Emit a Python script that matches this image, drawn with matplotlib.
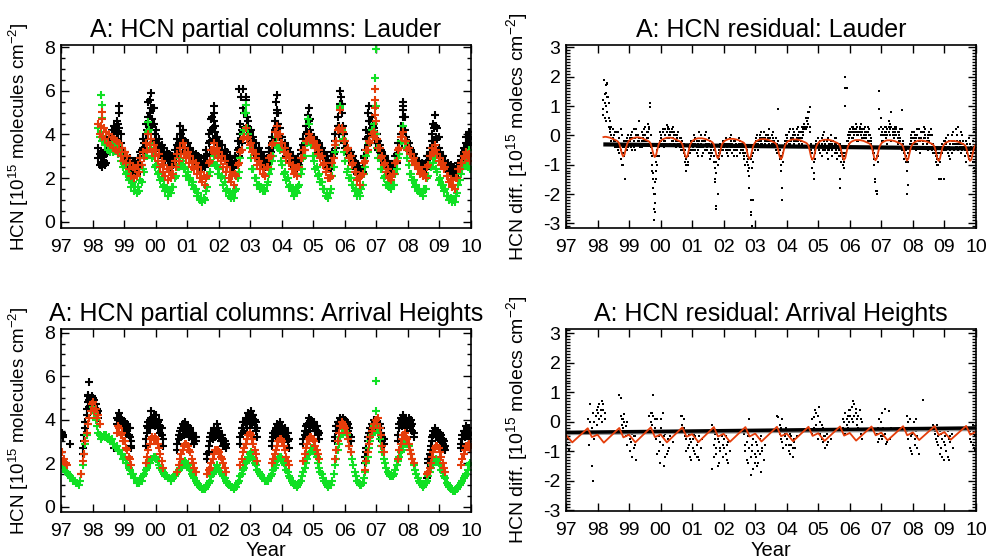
import numpy as np
import matplotlib.pyplot as plt
from matplotlib.ticker import MultipleLocator

plt.rcParams['font.family'] = ['Liberation Sans', 'DejaVu Sans']
plt.rcParams['mathtext.default'] = 'regular'
plt.rcParams['axes.unicode_minus'] = False

_ = None  # no measurement in this half-month slot

# each data row holds one year, split into 24 half-month slots
slot = (np.arange(24) + 0.5) / 24

# ---------------- Lauder partial columns ----------------
lau_years = [1998, 1999, 2000, 2001, 2002, 2003, 2004, 2005, 2006, 2007, 2008, 2009]

lau_black = [
    [_, _, _, _, 3.4, 2.6, 3.2, 2.5, 3.0, 3.3, 2.7, _, 3.9, 3.4, 4.2, 3.6, 4.4, 3.7, 4.6, 3.8, 5.3, 4.0, 3.4, 3.0],
    [3.2, 2.6, 3.0, 2.4, 2.9, 2.2, 2.8, 2.3, 2.7, 2.2, 2.9, 2.4, 3.2, 2.6, 3.8, 3.0, 4.5, 3.8, 5.5, 4.4, 5.9, 4.7, 5.2, 4.0],
    [4.2, 3.4, 3.8, 3.1, 3.5, 2.9, 3.4, 2.8, 3.2, 2.6, 3.1, 2.5, 3.0, 2.6, 3.3, 2.8, 3.8, 3.2, 4.4, 3.6, 4.2, 3.4, 3.7, 3.1],
    [3.6, 3.0, 3.4, 2.8, 3.2, 2.7, 3.1, 2.6, 3.0, 2.5, 2.9, 2.4, 2.8, 2.5, 3.3, 2.8, 4.0, 3.3, 4.7, 3.8, 5.3, 4.1, 3.9, 3.3],
    [3.7, 3.1, 3.5, 2.9, 3.3, 2.8, 3.2, 2.7, 3.0, 2.5, 2.8, 2.3, 3.0, 2.6, 3.7, 3.0, 4.5, 3.6, 6.1, 4.2, 5.7, 4.4, 4.6, 3.8],
    [4.2, 3.5, 3.9, 3.2, 3.6, 3.0, 3.4, 2.9, 3.2, 2.7, 3.0, 2.5, 2.9, 2.6, 3.4, 3.0, 3.9, 3.4, 4.6, 3.8, 5.8, 4.5, 4.3, 3.6],
    [3.9, 3.3, 3.6, 3.0, 3.4, 2.8, 3.2, 2.7, 3.0, 2.5, 2.8, 2.4, 2.9, 2.6, 3.3, 2.9, 3.8, 3.3, 4.4, 3.7, 5.2, 4.2, 4.0, 3.5],
    [3.9, 3.4, 3.7, 3.2, 3.6, 3.0, 3.4, 2.9, 3.2, 2.7, 3.0, 2.5, 2.7, 2.4, 3.2, 2.9, 4.0, 3.4, 4.8, 4.0, 6.0, 5.0, 4.4, 3.6],
    [3.7, 3.1, 3.4, 2.9, 3.2, 2.7, 3.0, 2.5, 2.7, 2.2, 2.5, 2.1, 2.4, 2.3, 3.0, 2.8, 4.2, 3.5, 5.3, 4.1, 4.8, 3.9, 4.3, 3.6],
    [4.0, 3.3, 3.5, 3.0, 3.2, 2.7, 3.0, 2.5, 2.8, 2.3, 2.6, 2.2, 2.5, 2.3, 3.0, 2.7, 3.6, 3.1, 4.4, 3.6, 5.5, 4.2, 3.9, 3.4],
    [3.6, 3.1, 3.3, 2.9, 3.1, 2.7, 2.9, 2.5, 2.8, 2.4, 2.7, 2.3, 2.6, 2.4, 3.0, 2.7, 3.4, 3.0, 4.0, 3.4, 4.9, 3.9, 4.3, 3.4],
    [3.2, 2.8, 3.0, 2.6, 2.8, 2.4, 2.7, 2.3, 2.6, 2.2, 2.5, 2.1, 2.4, 2.2, 2.7, 2.4, 3.0, 2.7, 3.4, 3.0, 3.9, 3.3, 4.1, 3.5],
]
lau_black2 = [
    [_, _, _, _, 2.9, 3.1, 2.7, 3.0, 2.8, 2.6, 3.1, _, 3.6, 3.9, 3.8, 4.0, 3.9, 4.2, 4.1, 4.5, 4.3, 3.6, 3.2, 3.2],
    [2.9, 3.0, 2.7, 2.8, 2.6, 2.5, 2.5, 2.6, 2.4, 2.5, 2.6, 2.7, 2.9, 3.3, 3.4, 3.6, 4.0, 4.2, 4.8, 5.0, 5.2, 4.4, 4.5, 3.7],
    [3.8, 3.6, 3.5, 3.4, 3.2, 3.2, 3.1, 3.0, 2.9, 2.9, 2.8, 2.8, 2.8, 2.9, 3.0, 3.1, 3.5, 3.6, 4.0, 4.0, 3.8, 3.7, 3.4, 3.3],
    [3.3, 3.2, 3.1, 3.0, 2.9, 2.9, 2.8, 2.8, 2.7, 2.7, 2.6, 2.6, 2.6, 2.7, 3.0, 3.1, 3.6, 3.7, 4.2, 4.3, 4.6, 4.4, 3.6, 3.5],
    [3.4, 3.3, 3.2, 3.1, 3.0, 3.0, 2.9, 2.9, 2.7, 2.7, 2.5, 2.6, 2.8, 2.9, 3.3, 3.4, 4.0, 4.2, 5.2, 5.0, 5.0, 4.8, 4.2, 4.1],
    [3.8, 3.7, 3.5, 3.4, 3.3, 3.2, 3.1, 3.1, 2.9, 2.9, 2.7, 2.8, 2.7, 2.8, 3.2, 3.2, 3.6, 3.7, 4.2, 4.3, 5.0, 5.0, 3.9, 3.9],
    [3.6, 3.5, 3.3, 3.3, 3.1, 3.1, 2.9, 3.0, 2.7, 2.8, 2.6, 2.6, 2.7, 2.8, 3.1, 3.1, 3.5, 3.6, 4.0, 4.1, 4.6, 4.7, 3.7, 3.8],
    [3.6, 3.6, 3.4, 3.4, 3.3, 3.3, 3.1, 3.2, 2.9, 3.0, 2.7, 2.8, 2.5, 2.6, 3.0, 3.1, 3.7, 3.7, 4.4, 4.4, 5.4, 5.4, 4.0, 4.0],
    [3.4, 3.4, 3.1, 3.2, 2.9, 3.0, 2.7, 2.8, 2.4, 2.5, 2.3, 2.3, 2.3, 2.5, 2.9, 3.3, 3.8, 3.9, 4.6, 4.6, 4.3, 4.4, 3.9, 4.0],
    [3.6, 3.7, 3.2, 3.3, 2.9, 3.0, 2.7, 2.8, 2.5, 2.6, 2.4, 2.4, 2.4, 2.6, 2.8, 3.1, 3.3, 3.4, 4.0, 4.0, 4.8, 4.8, 3.6, 3.7],
    [3.3, 3.4, 3.1, 3.1, 2.9, 2.9, 2.7, 2.7, 2.6, 2.6, 2.5, 2.5, 2.5, 2.7, 2.8, 3.0, 3.2, 3.2, 3.7, 3.7, 4.4, 4.4, 3.8, 3.9],
    [3.0, 3.0, 2.8, 2.8, 2.6, 2.6, 2.5, 2.5, 2.4, 2.4, 2.3, 2.3, 2.3, 2.5, 2.5, 2.7, 2.8, 3.0, 3.2, 3.3, 3.6, 3.6, 3.8, 3.8],
]
lau_red = [
    [_, _, _, _, 4.5, 4.0, 4.4, 3.9, 4.3, 3.8, 4.1, 3.6, 4.0, 3.5, 3.9, 3.4, 3.8, 3.3, 3.7, 3.2, 3.6, 3.0, 3.4, 2.8],
    [3.2, 2.7, 3.0, 2.4, 2.7, 2.1, 2.5, 2.0, 2.4, 2.1, 2.6, 2.3, 2.9, 2.6, 3.2, 2.9, 3.6, 3.3, 4.0, 3.5, 3.8, 3.2, 3.5, 3.0],
    [3.3, 2.8, 3.1, 2.5, 2.8, 2.3, 2.6, 2.1, 2.4, 1.9, 2.3, 2.0, 2.5, 2.2, 2.8, 2.5, 3.1, 2.8, 3.4, 3.1, 3.6, 3.1, 3.4, 2.9],
    [3.2, 2.7, 3.0, 2.5, 2.8, 2.4, 2.7, 2.2, 2.5, 2.0, 2.3, 1.8, 2.1, 1.7, 2.0, 2.1, 2.7, 2.8, 3.3, 3.3, 3.6, 3.1, 3.4, 2.9],
    [3.2, 2.8, 3.0, 2.5, 2.8, 2.3, 2.5, 2.0, 2.3, 1.8, 2.1, 1.7, 2.2, 2.1, 2.6, 2.7, 3.2, 3.3, 3.8, 3.9, 4.3, 3.8, 3.9, 3.5],
    [3.6, 3.2, 3.3, 2.9, 3.1, 2.6, 2.8, 2.4, 2.6, 2.2, 2.4, 2.1, 2.5, 2.5, 2.9, 3.0, 3.5, 3.6, 4.1, 4.1, 4.4, 3.9, 4.0, 3.6],
    [3.6, 3.2, 3.4, 2.9, 3.1, 2.7, 2.9, 2.4, 2.6, 2.2, 2.4, 2.1, 2.5, 2.5, 2.9, 2.9, 3.3, 3.3, 3.7, 3.7, 4.0, 3.8, 3.9, 3.6],
    [3.7, 3.4, 3.5, 3.1, 3.3, 2.9, 3.0, 2.6, 2.7, 2.3, 2.4, 2.0, 2.0, 2.1, 2.7, 2.9, 3.5, 3.7, 4.2, 4.3, 5.1, 4.3, 4.1, 3.7],
    [3.7, 3.3, 3.4, 2.9, 3.0, 2.6, 2.7, 2.3, 2.3, 1.9, 2.0, 1.7, 2.1, 2.2, 2.7, 2.8, 3.3, 3.3, 3.7, 3.6, 4.0, 3.9, 4.1, 3.8],
    [3.8, 3.4, 3.4, 2.9, 3.0, 2.6, 2.7, 2.3, 2.4, 2.0, 2.1, 1.9, 2.2, 2.2, 2.7, 2.8, 3.3, 3.4, 3.9, 3.9, 4.1, 3.7, 3.7, 3.3],
    [3.4, 3.1, 3.1, 2.8, 2.9, 2.6, 2.7, 2.4, 2.5, 2.2, 2.3, 2.1, 2.2, 2.0, 2.5, 2.6, 3.0, 3.0, 3.4, 3.2, 3.5, 3.3, 3.1, 2.8],
    [2.9, 2.6, 2.7, 2.4, 2.5, 2.1, 2.1, 1.8, 1.9, 1.6, 1.7, 1.5, 2.0, 2.0, 2.4, 2.4, 2.7, 2.7, 3.0, 2.9, 3.2, 3.0, 3.1, 2.8],
]
lau_green = [
    [_, _, _, _, 4.3, 3.9, 4.1, 3.7, 3.8, 3.5, 3.6, 3.3, 3.5, 3.2, 3.5, 3.2, 3.6, 3.3, 3.5, 3.1, 3.3, 2.8, 3.0, 2.5],
    [2.6, 2.2, 2.3, 1.9, 2.0, 1.6, 1.8, 1.4, 1.6, 1.3, 1.6, 1.4, 1.9, 1.8, 2.4, 2.3, 3.0, 3.0, 4.1, 3.4, 3.6, 2.9, 3.0, 2.5],
    [2.6, 2.2, 2.3, 1.9, 2.0, 1.6, 1.7, 1.4, 1.5, 1.2, 1.4, 1.3, 1.6, 1.6, 2.0, 2.1, 2.5, 2.5, 2.9, 2.6, 2.8, 2.4, 2.5, 2.1],
    [2.3, 1.9, 2.0, 1.7, 1.8, 1.5, 1.5, 1.2, 1.3, 1.0, 1.1, 0.9, 1.1, 1.0, 1.4, 1.6, 2.1, 2.3, 2.7, 2.7, 3.0, 2.6, 2.6, 2.2],
    [2.4, 2.0, 2.1, 1.7, 1.8, 1.4, 1.5, 1.2, 1.3, 1.1, 1.2, 1.1, 1.4, 1.5, 2.0, 2.3, 2.9, 3.3, 4.0, 4.2, 5.0, 4.3, 4.0, 3.4],
    [2.9, 2.4, 2.4, 2.0, 2.0, 1.7, 1.7, 1.5, 1.6, 1.4, 1.5, 1.4, 1.7, 1.8, 2.2, 2.4, 2.8, 3.0, 3.5, 3.5, 3.9, 3.4, 3.3, 2.8],
    [2.6, 2.2, 2.3, 1.9, 2.0, 1.6, 1.7, 1.4, 1.5, 1.2, 1.4, 1.3, 1.6, 1.7, 2.2, 2.4, 2.9, 3.0, 3.6, 3.6, 4.5, 3.8, 3.5, 3.0],
    [2.8, 2.4, 2.5, 2.1, 2.2, 1.8, 1.8, 1.5, 1.5, 1.2, 1.3, 1.1, 1.3, 1.5, 2.1, 2.5, 3.2, 3.5, 4.2, 4.3, 5.2, 4.2, 3.8, 3.2],
    [2.8, 2.3, 2.4, 2.0, 2.0, 1.7, 1.7, 1.4, 1.5, 1.2, 1.3, 1.2, 1.5, 1.7, 2.2, 2.5, 3.0, 3.2, 3.6, 3.6, 4.2, 4.0, 4.5, 4.0],
    [3.4, 2.9, 2.9, 2.4, 2.4, 2.0, 2.1, 1.7, 1.8, 1.6, 1.7, 1.5, 1.7, 1.7, 2.2, 2.4, 2.9, 3.1, 3.7, 3.7, 4.4, 3.6, 3.4, 2.9],
    [2.6, 2.2, 2.2, 1.9, 1.9, 1.6, 1.7, 1.4, 1.5, 1.3, 1.3, 1.2, 1.5, 1.5, 2.0, 2.1, 2.6, 2.5, 3.0, 2.7, 2.9, 2.4, 2.3, 1.9],
    [2.0, 1.7, 1.7, 1.4, 1.5, 1.2, 1.2, 1.0, 1.1, 0.9, 1.0, 0.9, 1.2, 1.3, 1.7, 1.9, 2.2, 2.4, 2.6, 2.7, 3.0, 2.5, 3.3, 2.4],
]
# isolated high points in the Lauder columns
lau_black_xt = [1998.85, 1999.83, 1999.88, 2000.78, 2001.80, 2001.84, 2002.63, 2002.70, 2002.86, 2003.82, 2003.86,
                2004.84, 2005.88, 2006.74, 2006.88, 2007.83, 2007.86, 2008.80, 2008.84, 2009.92, 2009.97]
lau_black_xv = [5.0, 5.6, 5.2, 4.4, 4.8, 5.0, 6.1, 5.7, 5.6, 5.5, 5.1,
                4.9, 5.7, 5.0, 4.5, 5.3, 5.1, 4.5, 4.3, 3.9, 4.1]
lau_red_xt = [1998.29, 1998.30, 2006.97, 2006.97, 2006.96, 2006.98, 2006.97]
lau_red_xv = [5.05, 4.7, 6.1, 5.6, 5.2, 4.6, 4.9]
lau_green_xt = [1998.28, 1998.29, 1998.30, 1999.77, 1999.79, 2002.86, 2002.83, 2004.84, 2005.86, 2006.98, 2006.97, 2006.98]
lau_green_xv = [5.8, 5.35, 4.75, 4.55, 4.2, 5.35, 5.0, 4.7, 5.3, 7.9, 6.6, 5.3]

# ---------------- Arrival Heights partial columns ----------------
ah_years = [1997, 1998, 1999, 2000, 2001, 2002, 2003, 2004, 2005, 2006, 2007, 2008, 2009]

ah_black = [
    [3.4, 3.2, _, _, _, _, 2.9, _, _, _, _, _, _, _, _, _, 2.4, 3.0, 3.6, 4.2, 5.1, 4.6, 5.0, 4.8],
    [5.0, 4.6, 4.7, 4.3, 4.4, _, _, _, _, _, _, _, _, _, _, _, _, _, 4.1, 3.7, 4.3, 3.8, 4.0, 3.6],
    [3.9, 3.4, 3.8, 3.3, 3.6, 2.8, _, _, _, _, _, _, _, _, _, _, 2.8, 3.4, 3.9, 3.6, 4.4, 3.8, 4.2, 3.7],
    [4.2, 3.6, 4.0, 3.4, 3.6, 2.8, _, _, _, _, _, _, _, _, _, _, 2.6, 3.1, 3.5, 3.2, 3.8, 3.3, 3.9, 3.4],
    [3.7, 3.2, 3.6, 3.1, 3.4, 2.9, 3.2, _, _, _, _, _, _, _, _, 2.2, 2.5, 3.0, 3.4, 3.1, 3.6, 3.2, 3.8, 3.3],
    [3.5, 3.0, 3.3, 2.8, 3.0, 2.7, _, _, _, _, _, _, _, _, _, _, 2.9, 3.4, 3.9, 3.5, 4.1, 3.6, 4.3, 3.8],
    [4.4, 3.8, 4.2, 3.6, 3.9, 3.2, _, _, _, _, _, _, _, _, _, _, 2.8, 3.2, 3.5, 3.2, 3.8, 3.3, 3.9, 3.4],
    [3.7, 3.2, 3.6, 3.1, 3.4, 2.7, _, _, _, _, _, _, _, _, _, _, 2.9, 3.3, 3.7, 3.4, 4.1, 3.5, 4.0, 3.6],
    [3.9, 3.5, 3.7, 3.3, 3.4, _, _, _, _, _, _, _, _, _, _, _, 3.0, 3.5, 3.9, 3.6, 4.1, 3.8, 4.1, 3.8],
    [4.0, 3.7, 3.8, 3.3, 3.0, _, _, _, _, _, _, _, _, _, _, 2.0, 2.5, 3.0, 3.4, 3.2, 3.8, 3.5, 4.0, 3.7],
    [3.9, 3.6, 3.8, 3.4, 3.2, 2.9, _, _, _, _, _, _, _, _, _, _, 3.0, 3.6, 4.1, 3.7, 4.2, 3.8, 4.0, 3.6],
    [4.1, 3.6, 4.0, 3.5, 3.2, _, _, _, _, _, _, _, _, _, 1.3, 2.0, 2.2, 2.6, 3.0, 3.3, 3.6, 3.2, 3.5, 3.1],
    [3.4, 3.0, 3.1, 2.7, 2.6, _, _, _, _, _, _, _, _, _, _, _, 2.7, 3.1, 3.5, 3.2, 3.7, 3.3, 3.6, 3.1],
]
ah_black2 = [
    [3.3, 3.3, _, _, _, _, _, _, _, _, _, _, _, _, _, _, 2.7, 3.3, 3.9, 4.5, 4.8, 4.9, 4.7, 5.1],
    [4.7, 4.9, 4.4, 4.5, 4.1, _, _, _, _, _, _, _, _, _, _, _, _, _, 3.8, 4.0, 4.0, 4.1, 3.7, 3.9],
    [3.6, 3.7, 3.5, 3.6, 3.2, 3.0, _, _, _, _, _, _, _, _, _, _, 3.1, 3.7, 3.6, 4.0, 4.1, 4.1, 3.9, 4.0],
    [3.9, 3.9, 3.7, 3.7, 3.3, 3.1, _, _, _, _, _, _, _, _, _, _, 2.9, 3.3, 3.3, 3.6, 3.5, 3.6, 3.6, 3.7],
    [3.4, 3.5, 3.3, 3.4, 3.1, 3.2, 3.0, _, _, _, _, _, _, _, _, 2.4, 2.8, 3.2, 3.2, 3.4, 3.4, 3.5, 3.5, 3.6],
    [3.2, 3.3, 3.0, 3.1, 2.8, 2.9, _, _, _, _, _, _, _, _, _, _, 3.2, 3.6, 3.6, 3.9, 3.8, 4.0, 4.0, 4.1],
    [4.1, 4.2, 3.9, 4.0, 3.5, 3.6, _, _, _, _, _, _, _, _, _, _, 3.0, 3.4, 3.3, 3.6, 3.5, 3.7, 3.6, 3.7],
    [3.4, 3.5, 3.3, 3.4, 3.0, 3.1, _, _, _, _, _, _, _, _, _, _, 3.1, 3.5, 3.5, 3.8, 3.7, 3.9, 3.8, 3.9],
    [3.7, 3.7, 3.5, 3.5, 3.1, _, _, _, _, _, _, _, _, _, _, _, 3.2, 3.7, 3.7, 3.9, 3.9, 4.0, 3.9, 4.0],
    [3.8, 3.9, 3.5, 3.6, 3.2, _, _, _, _, _, _, _, _, _, _, 2.3, 2.7, 3.2, 3.2, 3.6, 3.5, 3.7, 3.8, 3.9],
    [3.7, 3.8, 3.6, 3.6, 3.0, 3.1, _, _, _, _, _, _, _, _, _, _, 3.3, 3.8, 3.9, 4.0, 4.0, 4.1, 3.8, 3.9],
    [3.8, 3.9, 3.7, 3.8, 3.4, _, _, _, _, _, _, _, _, _, _, 2.2, 2.4, 2.8, 3.2, 3.5, 3.4, 3.5, 3.3, 3.4],
    [3.2, 3.3, 2.9, 3.0, 2.8, _, _, _, _, _, _, _, _, _, _, _, 2.9, 3.3, 3.3, 3.5, 3.5, 3.6, 3.3, 3.4],
]
ah_red = [
    [2.5, 2.1, 2.2, 2.0, 1.9, _, _, _, _, _, _, _, _, _, _, 1.5, 2.1, 2.4, 3.0, 3.4, 3.8, 4.1, 4.4, 4.7],
    [4.8, 4.4, 4.5, 4.1, 4.2, 3.8, _, _, _, _, _, _, _, _, _, _, _, _, 3.4, 3.7, 3.6, 3.3, 3.4, 3.0],
    [3.0, 2.7, 2.6, 2.3, 2.2, 1.9, _, _, _, _, _, _, _, _, _, _, 2.0, 2.3, 2.6, 2.9, 3.1, 3.2, 3.1, 3.2],
    [3.1, 2.9, 2.7, 2.4, 2.1, 1.8, _, _, _, _, _, _, _, _, _, _, 1.6, 1.9, 2.2, 2.4, 2.6, 2.8, 2.9, 2.9],
    [2.8, 2.6, 2.5, 2.2, 2.0, 1.8, 1.6, _, _, _, _, _, _, _, _, 1.5, 1.7, 1.8, 2.0, 2.2, 2.4, 2.6, 2.6, 2.6],
    [2.5, 2.3, 2.2, 2.0, 1.8, 1.6, _, _, _, _, _, _, _, _, _, _, 1.9, 2.2, 2.5, 2.7, 2.9, 3.1, 3.3, 3.4],
    [3.3, 3.1, 2.9, 2.6, 2.4, 2.1, _, _, _, _, _, _, _, _, _, _, 2.0, 2.2, 2.4, 2.6, 2.8, 3.0, 3.1, 3.1],
    [3.0, 2.8, 2.6, 2.3, 2.1, 1.9, _, _, _, _, _, _, _, _, _, _, 2.1, 2.4, 2.7, 2.9, 3.1, 3.2, 3.2, 3.1],
    [3.0, 2.8, 2.6, 2.4, 2.2, _, _, _, _, _, _, _, _, _, _, _, 2.2, 2.6, 3.0, 3.4, 3.7, 3.9, 3.8, 3.7],
    [3.6, 3.4, 3.1, 2.8, 2.5, _, _, _, _, _, _, _, _, _, _, 1.7, 2.1, 2.5, 2.9, 3.2, 3.5, 3.6, 3.8, 4.0],
    [3.8, 4.1, 3.6, 3.3, 2.8, 2.5, _, _, _, _, _, _, _, _, _, _, 2.2, 2.6, 2.9, 3.1, 3.3, 3.4, 3.2, 3.1],
    [2.9, 2.6, 2.4, 2.2, 2.0, _, _, _, _, _, _, _, _, _, 1.5, 1.6, 1.8, 2.0, 2.3, 2.5, 2.7, 2.8, 2.8, 2.7],
    [2.5, 2.3, 2.0, 1.8, 1.6, _, _, _, _, _, _, _, _, _, _, _, 1.9, 2.2, 2.4, 2.6, 2.8, 2.8, 2.9, 2.7],
]
ah_green = [
    [1.9, 1.8, 1.8, 1.6, 1.6, 1.5, 1.4, 1.3, 1.3, 1.2, 1.2, 1.1, 1.1, 1.0, 1.2, 1.5, 1.9, 2.4, 2.9, 3.3, 3.8, 4.1, 4.4, 4.7],
    [4.6, 4.3, 4.0, 3.7, 3.4, 3.3, 3.1, 3.2, 3.3, 3.2, 3.3, 3.1, 3.2, 3.0, 3.1, 2.9, 2.9, 2.7, 2.8, 2.6, 2.6, 2.4, 2.4, 2.2],
    [2.3, 2.0, 2.0, 1.8, 1.7, 1.5, 1.5, 1.3, 1.3, 1.1, 1.2, 1.1, 1.2, 1.2, 1.4, 1.5, 1.7, 1.8, 2.0, 2.0, 2.2, 2.2, 2.3, 2.3],
    [2.2, 2.1, 1.9, 1.8, 1.7, 1.6, 1.5, 1.4, 1.4, 1.3, 1.3, 1.2, 1.3, 1.3, 1.4, 1.5, 1.6, 1.7, 1.8, 1.8, 2.0, 2.0, 2.1, 2.0],
    [1.9, 1.8, 1.7, 1.5, 1.4, 1.3, 1.2, 1.1, 1.0, 0.9, 0.9, 0.8, 0.8, 0.8, 0.9, 1.0, 1.1, 1.2, 1.4, 1.5, 1.6, 1.7, 1.9, 1.8],
    [1.8, 1.6, 1.5, 1.4, 1.3, 1.2, 1.1, 1.0, 1.0, 0.9, 0.9, 0.8, 0.9, 0.9, 1.1, 1.2, 1.4, 1.5, 1.7, 1.8, 2.0, 2.1, 2.3, 2.4],
    [2.5, 2.3, 2.2, 2.0, 1.9, 1.7, 1.6, 1.5, 1.4, 1.3, 1.3, 1.2, 1.2, 1.2, 1.3, 1.4, 1.5, 1.7, 1.8, 1.9, 2.1, 2.2, 2.3, 2.3],
    [2.2, 2.0, 1.9, 1.7, 1.6, 1.4, 1.3, 1.2, 1.1, 1.0, 1.0, 0.9, 1.0, 1.1, 1.2, 1.4, 1.6, 1.8, 2.0, 2.2, 2.4, 2.5, 2.7, 2.7],
    [2.6, 2.4, 2.3, 2.0, 1.8, 1.6, 1.5, 1.3, 1.2, 1.1, 1.0, 0.9, 1.0, 1.0, 1.2, 1.5, 1.9, 2.2, 2.6, 2.9, 3.2, 3.4, 3.6, 3.6],
    [3.5, 3.3, 3.1, 2.8, 2.5, 2.2, 1.9, 1.6, 1.4, 1.2, 1.1, 1.0, 1.0, 1.1, 1.3, 1.6, 2.0, 2.3, 2.7, 3.0, 3.3, 3.5, 3.7, 3.8],
    [3.7, 3.4, 3.1, 2.8, 2.5, 2.2, 2.0, 1.8, 1.6, 1.5, 1.4, 1.4, 1.4, 1.5, 1.7, 1.9, 2.1, 2.3, 2.5, 2.6, 2.8, 2.9, 3.0, 2.9],
    [2.8, 2.6, 2.4, 2.2, 1.9, 1.7, 1.5, 1.3, 1.2, 1.1, 1.0, 0.9, 1.0, 1.1, 1.2, 1.4, 1.6, 1.8, 1.9, 2.0, 2.1, 2.2, 2.1, 2.0],
    [1.9, 1.7, 1.6, 1.4, 1.3, 1.1, 1.0, 0.9, 0.8, 0.8, 0.7, 0.7, 0.8, 0.8, 0.9, 1.0, 1.1, 1.2, 1.3, 1.4, 1.5, 1.7, 1.9, 2.0],
]
ah_black_xt = [1997.88, 1997.86, 1997.92, 1998.68, 1999.22]
ah_black_xv = [5.75, 5.15, 5.0, 2.7, 2.7]
ah_green_xt = [2006.98, 2006.99]
ah_green_xv = [5.8, 4.4]

# ---------------- Lauder residual ----------------
lau_res_a = [
    [_, _, _, _, 1.2, 0.6, 1.7, 0.8, 0.3, 0.1, -0.2, 0.2, -0.3, -0.4, 0.1, -0.3, -0.1, -0.5, 0.0, -0.6, -0.4, -0.2, -0.1, 0.0],
    [-0.1, -0.4, 0.1, -0.2, -0.5, 0.2, -0.3, 0.5, -0.1, -0.4, 0.0, -0.2, 0.3, -0.1, 0.4, -0.3, -0.6, -1.2, -1.8, -2.3, -0.9, -0.5, -0.3, 0.1],
    [-0.2, 0.1, -0.4, 0.2, -0.1, 0.3, 0.0, -0.3, 0.2, -0.2, 0.1, -0.4, 0.0, -0.3, -0.1, -0.5, -0.2, -0.6, -0.9, -1.2, -0.7, -0.4, -0.6, -0.2],
    [-0.3, 0.0, -0.5, -0.2, -0.7, 0.1, -0.4, -0.2, -0.6, 0.0, -0.3, -0.5, -0.1, -0.8, -0.4, -0.6, -0.9, -1.5, -2.4, -1.0, -0.5, -0.3, -0.7, -0.2],
    [-0.4, -0.1, -0.6, -0.3, -0.5, 0.0, -0.3, -0.7, -0.2, -0.5, -0.4, -0.1, -0.6, -0.3, -0.5, -0.8, -0.4, -0.9, -1.2, -1.8, -2.7, -1.1, -0.6, -0.3],
    [-0.1, -0.4, -0.2, 0.0, -0.3, -0.1, 0.1, -0.2, -0.4, 0.0, -0.2, -0.1, -0.3, 0.1, -0.2, -0.5, -0.3, 0.9, -0.7, -1.0, -1.8, -0.6, -0.4, -0.2],
    [-0.2, 0.1, -0.4, -0.1, 0.2, -0.3, 0.0, -0.2, 0.3, -0.1, 0.1, -0.3, 0.2, 0.4, 0.6, 0.3, 0.8, 0.1, -0.3, -0.8, -1.3, -0.5, -0.2, -0.4],
    [-0.3, -0.6, -0.1, -0.4, 0.1, -0.5, -0.2, -0.8, -0.3, 0.0, -0.5, -0.2, -0.6, -0.1, -0.4, -0.7, -0.3, -0.9, -0.6, -1.1, 1.0, 1.6, -0.4, 0.1],
    [0.0, 0.3, -0.1, 0.2, 0.4, -0.2, 0.1, 0.3, 0.0, 0.2, -0.1, 0.3, 0.1, -0.2, 0.2, 0.0, -0.3, -0.5, -0.8, -1.5, -1.9, -0.7, 1.5, 0.6],
    [0.1, -0.2, 0.3, -0.1, 0.2, 0.5, 0.0, 0.8, 0.2, -0.1, 0.3, 0.0, -0.3, 0.1, -0.2, 0.85, -0.4, -0.6, -0.9, -2.0, -1.7, -0.5, -0.2, 0.1],
    [-0.3, 0.0, -0.5, 0.2, -0.2, -0.6, 0.1, -0.3, 0.3, -0.1, -0.4, 0.0, -0.2, 0.2, -0.5, -0.3, -0.6, -0.9, -0.7, -1.0, -1.5, -0.4, -0.6, -0.2],
    [-0.4, -0.1, -0.6, -0.2, -0.8, 0.0, -0.3, -0.5, 0.2, -0.4, 0.3, -0.2, -0.6, 0.0, -0.4, -0.7, -0.2, -0.5, -0.8, -0.3, -0.6, -0.9, 0.1, -1.2],
]
lau_res_b = [
    [_, _, _, _, 0.7, 1.4, 1.0, 1.8, 1.1, 0.5, 0.3, -0.1, 0.0, -0.2, -0.4, 0.1, -0.6, 0.2, -0.3, -1.0, -0.2, -0.5, -0.3, -0.4],
    [-0.3, 0.0, -0.5, 0.2, -0.1, -0.3, 0.0, -0.2, -0.4, 0.1, -0.3, 0.2, -0.2, 0.1, -0.1, 0.3, 0.0, -0.7, -1.3, -2.6, -1.5, -1.0, -0.7, -0.2],
    [0.0, -0.3, 0.2, -0.2, 0.35, -0.1, 0.2, 0.1, -0.2, 0.3, -0.3, 0.0, -0.2, 0.1, -0.4, -0.1, -0.5, -0.3, -0.5, -0.8, -1.0, -0.6, -0.3, -0.5],
    [-0.5, -0.2, -0.1, -0.6, -0.3, -0.4, 0.0, -0.7, -0.2, -0.5, 0.1, -0.3, -0.6, -0.2, -0.7, -0.3, -0.5, -0.9, -1.3, -2.0, -0.8, -0.6, -0.4, -0.5],
    [-0.2, -0.5, -0.3, -0.7, -0.1, -0.4, -0.6, -0.2, -0.5, -0.3, -0.7, -0.4, -0.2, -0.5, -0.3, -0.6, -1.0, -0.5, -0.8, -1.4, -2.2, -3.1, -0.9, -0.5],
    [-0.3, 0.0, -0.5, -0.2, 0.1, -0.4, -0.1, -0.3, 0.0, -0.2, 0.2, -0.4, 0.0, -0.2, -0.4, -0.1, -0.6, -0.4, -0.8, -1.2, -2.2, -0.9, -0.2, 0.0],
    [0.0, -0.3, 0.2, -0.2, -0.1, 0.1, -0.4, 0.2, -0.2, 0.1, -0.1, 0.3, 0.0, 0.2, 0.3, 0.5, 0.4, 0.95, -0.5, -1.1, -1.5, -0.8, -0.4, -0.1],
    [-0.5, -0.2, -0.7, 0.0, -0.4, -0.3, -0.6, -0.1, -0.5, -0.2, -0.7, -0.4, -0.1, -0.5, -0.8, -0.3, -1.8, -0.5, -1.0, -0.7, 2.0, -0.2, 0.0, -0.3],
    [0.2, -0.1, 0.3, 0.0, 0.1, 0.3, -0.2, 0.1, 0.4, -0.1, 0.2, 0.0, -0.1, 0.3, -0.2, -0.4, -0.1, -0.6, -1.0, -1.6, -2.0, -0.9, 0.9, 0.3],
    [-0.2, 0.2, 0.0, 0.3, -0.3, 0.1, 0.4, -0.2, 0.0, 0.2, -0.4, 0.3, 0.1, -0.2, 0.2, -0.5, -0.2, -0.8, -0.5, -1.2, -0.9, -0.3, 0.0, -0.3],
    [0.1, -0.4, -0.1, -0.3, 0.2, -0.2, -0.4, 0.1, -0.1, 0.2, -0.3, -0.5, 0.1, -0.4, 0.0, -0.6, -0.4, -0.5, -1.0, -0.8, -0.6, -1.5, -0.3, -0.5],
    [-0.2, -0.5, 0.0, -0.7, -0.3, -0.6, 0.1, -0.2, -0.4, 0.0, -0.5, -0.3, 0.1, -0.5, -0.2, -0.4, -0.9, -0.3, -0.1, -0.7, -0.4, -0.2, -0.6, -0.9],
]
lau_res_c = [
    [_, _, _, _, 0.9, 1.1, 0.5, 1.3, 0.6, 0.2, 0.0, -0.3, -0.2, 0.1, -0.3, -0.5, -0.4, -0.8, -0.6, -0.4, -0.7, -0.3, -0.5, -0.2],
    [-0.2, -0.3, -0.1, -0.4, -0.3, 0.0, -0.2, -0.1, -0.3, -0.2, -0.1, -0.3, 0.0, -0.2, 0.1, 0.2, -0.4, -1.0, -1.5, -2.0, -1.2, -0.7, -0.4, -0.3],
    [-0.1, 0.2, -0.2, 0.0, 0.1, 0.2, -0.1, 0.0, 0.1, -0.1, 0.0, -0.2, -0.1, -0.2, -0.3, -0.3, -0.4, -0.5, -0.7, -1.0, -0.9, -0.5, -0.4, -0.3],
    [-0.4, -0.3, -0.3, -0.4, -0.5, -0.2, -0.3, -0.4, -0.4, -0.2, -0.5, -0.4, -0.3, -0.6, -0.5, -0.4, -0.7, -1.1, -0.9, -0.7, -0.6, -0.4, -0.5, -0.4],
    [-0.3, -0.3, -0.4, -0.5, -0.3, -0.2, -0.4, -0.5, -0.4, -0.4, -0.5, -0.3, -0.4, -0.4, -0.6, -0.7, -0.6, -0.7, -1.0, -1.1, -0.8, -0.7, -0.4, -0.4],
    [-0.2, -0.2, -0.3, -0.1, -0.2, -0.3, -0.1, -0.1, -0.2, -0.1, -0.3, -0.2, -0.2, -0.1, -0.3, -0.3, -0.4, -0.2, -0.5, -0.8, -0.7, -0.4, -0.3, -0.3],
    [-0.1, -0.2, -0.3, -0.2, 0.0, -0.2, -0.2, -0.1, 0.0, -0.3, -0.2, -0.1, 0.1, 0.3, 0.2, 0.5, 0.6, 0.3, -0.4, -0.6, -0.9, -0.6, -0.3, -0.3],
    [-0.4, -0.4, -0.3, -0.5, -0.2, -0.4, -0.4, -0.5, -0.4, -0.3, -0.3, -0.4, -0.3, -0.3, -0.6, -0.5, -0.7, -0.6, -0.8, -0.9, -0.6, -0.4, -0.2, -0.1],
    [0.1, 0.1, 0.2, 0.1, 0.2, 0.0, 0.0, 0.2, 0.2, 0.1, 0.0, 0.1, 0.0, 0.1, 0.0, -0.2, -0.2, -0.4, -0.6, -0.8, -0.7, -0.4, 0.2, 0.0],
    [0.0, 0.0, 0.1, 0.1, 0.0, 0.3, 0.2, 0.3, 0.1, 0.0, 0.1, 0.2, -0.1, 0.0, -0.1, 0.2, -0.3, -0.5, -0.7, -0.8, -0.6, -0.4, -0.1, -0.1],
    [-0.1, -0.2, -0.3, 0.0, -0.1, -0.4, -0.1, -0.2, 0.1, 0.0, -0.2, -0.1, 0.0, 0.0, -0.3, -0.4, -0.5, -0.7, -0.8, -0.6, -0.9, -0.6, -0.4, -0.4],
    [-0.3, -0.3, -0.4, -0.4, -0.5, -0.2, -0.2, -0.3, -0.3, -0.2, -0.3, -0.4, -0.4, -0.3, -0.3, -0.5, -0.5, -0.6, -0.5, -0.5, -0.4, -0.5, -0.4, -0.6],
]
lau_res_xt = [1998.22, 1998.30, 1998.27, 1998.33, 1998.77, 1998.87, 1999.66, 1999.67, 1999.78, 1999.80, 1999.79,
              1999.82, 2001.75, 2001.73, 2002.88, 2002.92, 2002.90, 2003.85, 2003.86, 2004.72, 2005.70, 2005.84,
              2006.80, 2006.83, 2007.82, 2007.84, 2008.82, 2009.00, 2009.95]
lau_res_xv = [1.9, 1.75, 1.45, 1.3, -1.0, -1.5, 1.1, 0.95, -2.0, -2.5, -2.9,
              -1.6, -2.5, -1.6, -2.6, -2.2, -3.1, -2.2, -1.8, 0.8, -1.5, 1.6,
              -1.6, -1.9, -2.0, -1.7, -1.5, -1.5, -1.1]
lau_fit = [
    [_, _, _, _, -0.06, -0.05, -0.05, -0.06, -0.07, -0.08, -0.10, -0.12, -0.14, -0.16, -0.18, -0.21, -0.28, -0.43, -0.62, -0.72, -0.66, -0.47, -0.30, -0.21],
    [-0.16, -0.13, -0.11, -0.09, -0.08, -0.07, -0.07, -0.07, -0.08, -0.09, -0.11, -0.13, -0.15, -0.17, -0.19, -0.22, -0.29, -0.45, -0.64, -0.74, -0.68, -0.49, -0.31, -0.22],
    [-0.17, -0.14, -0.12, -0.10, -0.09, -0.08, -0.08, -0.08, -0.09, -0.10, -0.12, -0.14, -0.16, -0.18, -0.20, -0.23, -0.30, -0.46, -0.66, -0.76, -0.70, -0.50, -0.32, -0.23],
    [-0.18, -0.15, -0.13, -0.11, -0.10, -0.10, -0.10, -0.10, -0.11, -0.12, -0.13, -0.15, -0.17, -0.19, -0.21, -0.24, -0.31, -0.47, -0.68, -0.78, -0.72, -0.52, -0.34, -0.25],
    [-0.20, -0.17, -0.15, -0.13, -0.12, -0.12, -0.12, -0.12, -0.13, -0.14, -0.15, -0.17, -0.19, -0.21, -0.23, -0.26, -0.33, -0.49, -0.70, -0.80, -0.74, -0.54, -0.36, -0.27],
    [-0.21, -0.18, -0.16, -0.14, -0.13, -0.13, -0.13, -0.13, -0.14, -0.15, -0.16, -0.18, -0.20, -0.22, -0.24, -0.27, -0.34, -0.50, -0.71, -0.81, -0.75, -0.55, -0.37, -0.28],
    [-0.22, -0.19, -0.17, -0.15, -0.14, -0.14, -0.14, -0.14, -0.15, -0.16, -0.17, -0.19, -0.21, -0.23, -0.25, -0.28, -0.35, -0.52, -0.73, -0.83, -0.77, -0.57, -0.38, -0.29],
    [-0.23, -0.20, -0.18, -0.16, -0.15, -0.15, -0.15, -0.15, -0.16, -0.17, -0.18, -0.20, -0.22, -0.24, -0.26, -0.29, -0.36, -0.53, -0.74, -0.84, -0.78, -0.58, -0.39, -0.30],
    [-0.24, -0.21, -0.19, -0.17, -0.16, -0.16, -0.16, -0.16, -0.17, -0.18, -0.19, -0.21, -0.23, -0.25, -0.27, -0.30, -0.37, -0.54, -0.75, -0.85, -0.79, -0.59, -0.40, -0.31],
    [-0.25, -0.22, -0.20, -0.18, -0.17, -0.17, -0.17, -0.17, -0.18, -0.19, -0.20, -0.22, -0.24, -0.26, -0.28, -0.31, -0.38, -0.55, -0.76, -0.86, -0.80, -0.60, -0.41, -0.32],
    [-0.26, -0.23, -0.21, -0.19, -0.18, -0.18, -0.18, -0.18, -0.19, -0.20, -0.21, -0.23, -0.25, -0.27, -0.29, -0.32, -0.39, -0.56, -0.77, -0.87, -0.81, -0.61, -0.42, -0.33],
    [-0.27, -0.24, -0.22, -0.20, -0.19, -0.19, -0.19, -0.19, -0.20, -0.21, -0.22, -0.24, -0.26, -0.28, -0.30, -0.33, -0.40, -0.57, -0.78, -0.87, -0.82, -0.62, -0.43, -0.34],
]
lau_trend_t = [1998.25, 2010.0]
lau_trend_v = [-0.31, -0.45]

# ---------------- Arrival Heights residual ----------------
ah_res_a = [
    [-0.8, -0.6, -0.95, _, _, _, _, _, _, _, _, _, _, _, _, _, 0.1, -0.3, 0.6, -0.2, 0.3, -0.6, 0.2, -0.1],
    [0.3, 0.6, 0.2, 0.7, 0.4, 0.1, _, _, _, _, _, _, _, _, _, _, 0.9, 0.2, -0.1, 0.1, 0.25, -0.15, 0.0, -0.4],
    [-0.6, -0.3, -1.2, -0.5, -0.8, -1.3, _, _, _, _, _, _, _, _, _, 0.2, 0.3, -0.1, 0.9, 0.1, -0.3, -1.1, -0.5, -1.4],
    [0.1, -0.8, -1.5, -0.4, -1.1, -0.6, -0.9, -0.5, _, -0.7, _, _, _, _, _, 0.2, -0.1, 0.1, -0.3, -0.6, -0.9, -0.4, -1.2, -0.7],
    [-0.6, -1.0, -0.5, -1.2, -0.7, -1.3, -0.9, -0.6, _, _, _, _, _, _, -0.3, -1.6, -0.8, -0.4, -1.1, -0.6, -1.4, -0.9, -0.5, -1.2],
    [-0.9, -0.5, -1.3, -0.7, -1.0, _, _, _, _, _, _, _, _, _, _, -0.4, -1.0, -0.7, -1.4, 0.1, -1.2, -0.8, -1.6, -1.1],
    [-0.7, -1.5, -1.0, -0.6, -1.7, -0.9, -1.3, -0.8, _, _, _, _, _, _, _, _, 0.2, -0.3, -0.1, -0.6, 0.1, -0.9, -0.4, -0.2],
    [-0.6, -1.0, -0.4, -0.8, -1.2, -0.7, -0.9, -0.5, _, _, _, _, _, _, _, _, _, _, _, 0.1, -0.2, 0.4, -0.1, 0.2],
    [-0.3, 0.0, -0.6, -0.2, -0.5, -0.9, -0.4, -0.7, -0.3, -0.6, _, _, _, _, _, _, _, _, 0.1, -0.3, 0.3, -0.1, 0.2, 0.4],
    [0.2, 0.5, 0.0, 0.6, 0.3, 0.1, -0.2, 0.4, -0.4, 0.0, _, _, _, _, _, _, _, _, _, _, -0.4, -0.7, 0.1, -0.5],
    [0.3, -0.5, 0.45, -0.3, -0.7, 0.35, -0.6, -0.2, _, _, _, _, _, _, _, _, _, _, _, 0.2, -0.6, 0.1, -1.0, -0.4],
    [-0.2, -0.8, 0.1, -0.5, -1.1, _, _, 0.75, _, _, _, _, _, _, _, -0.1, -0.4, -0.2, -0.7, -0.5, -0.3, -0.9, -0.6, -1.3],
    [-0.5, -1.0, -0.3, -1.3, -0.7, -0.4, -0.9, _, _, _, _, _, _, _, _, _, _, _, _, -0.3, -0.7, -0.1, -0.9, -0.5],
]
ah_res_b = [
    [_, _, _, _, _, _, _, _, _, _, _, _, _, _, _, _, _, -0.8, 0.0, -1.5, -2.0, 0.0, -0.4, 0.4],
    [0.5, 0.1, 0.4, 0.0, 0.6, 0.3, _, _, _, _, _, _, _, _, _, _, _, 0.8, 0.1, -0.2, 0.0, -0.5, -0.8, -0.3],
    [-1.0, -0.7, -0.4, -0.9, -0.5, _, _, _, _, _, _, _, _, _, _, _, 0.0, 0.3, 0.2, -0.2, -0.6, 0.1, -1.0, -0.7],
    [-0.2, 0.3, -0.5, -1.2, -0.3, -1.0, _, _, _, _, _, _, _, _, _, _, 0.2, -0.2, -0.5, -1.0, -0.3, -0.8, -0.6, -1.3],
    [-0.9, -0.4, -1.1, -0.8, -1.2, -0.5, _, _, _, _, _, _, _, _, _, -0.1, -1.2, -0.6, -0.9, -1.5, -0.7, -1.0, -0.3, -0.8],
    [-0.6, -1.1, -0.8, -1.4, _, _, _, _, _, _, _, _, _, _, _, _, -0.8, -1.3, -0.5, -0.9, -1.8, -1.0, -0.6, -1.4],
    [-1.2, -0.8, -1.4, -1.1, -0.5, -1.0, _, _, _, _, _, _, _, _, _, _, _, 0.15, -0.4, -0.2, -0.7, -0.3, -0.5, -0.8],
    [-0.3, -0.8, -1.1, -0.5, -0.9, -0.6, _, _, _, _, _, _, _, _, _, _, _, _, _, -0.4, 0.15, -0.3, 0.3, -0.6],
    [0.5, -0.4, -0.1, -0.7, -0.3, -0.5, -0.8, _, _, _, _, _, _, _, _, _, _, _, -0.2, 0.0, -0.4, 0.1, -0.2, 0.0],
    [0.4, 0.1, 0.7, 0.2, 0.45, -0.1, 0.2, -0.3, 0.1, -0.6, _, _, _, _, _, _, _, _, _, _, _, -0.2, -0.6, 0.0],
    [-0.6, -0.2, -0.4, -0.74, -0.3, _, _, _, _, _, _, _, _, _, _, _, _, _, _, -0.3, 0.0, -0.9, -0.5, -1.1],
    [0.0, -0.6, -0.3, -0.9, _, _, _, _, _, _, _, _, _, _, _, _, -0.3, -0.6, -0.1, -0.8, -1.1, -0.4, -1.2, -0.7],
    [-0.8, -0.2, -1.2, -0.6, -0.5, _, _, _, _, _, _, _, _, _, _, _, _, _, _, -0.6, -0.4, -0.8, -0.2, -0.96],
]
# piecewise fit drawn in red on the Arrival Heights residual
ah_fit_t = [1997.0, 1997.2, 1997.69, 1997.82, 1998.0, 1998.2, 1998.69, 1998.82, 1999.0, 1999.2, 1999.69, 1999.82,
            2000.0, 2000.2, 2000.69, 2000.82, 2001.0, 2001.2, 2001.69, 2001.82, 2002.0, 2002.2, 2002.69, 2002.82,
            2003.0, 2003.2, 2003.69, 2003.82, 2004.0, 2004.2, 2004.69, 2004.82, 2005.0, 2005.2, 2005.69, 2005.82,
            2006.0, 2006.2, 2006.69, 2006.82, 2007.0, 2007.2, 2007.69, 2007.82, 2008.0, 2008.2, 2008.69, 2008.82,
            2009.0, 2009.2, 2009.69, 2009.82, 2010.0]
ah_fit_v = [-0.45, -0.70, -0.22, -0.52, -0.44, -0.71, -0.21, -0.53, -0.44, -0.70, -0.19, -0.52,
            -0.43, -0.70, -0.19, -0.51, -0.42, -0.69, -0.18, -0.50, -0.41, -0.68, -0.18, -0.50,
            -0.40, -0.67, -0.17, -0.49, -0.40, -0.66, -0.17, -0.48, -0.39, -0.65, -0.16, -0.47,
            -0.38, -0.64, -0.16, -0.46, -0.37, -0.63, -0.15, -0.46, -0.36, -0.62, -0.15, -0.45,
            -0.35, -0.61, -0.14, -0.44, -0.34]
ah_trend_t = [1997.0, 2010.0]
ah_trend_v = [-0.36, -0.21]
ah_trend_lo_v = [-0.41, -0.27]

year_ticks = list(range(1997, 2011))
year_labels = ['97', '98', '99', '00', '01', '02', '03', '04', '05', '06', '07', '08', '09', '10']

RED = '#e53d0a'
GREEN = '#10e024'


def series(years, rows):
    t = np.concatenate([y + slot for y in years])
    v = np.array(rows, dtype=float).ravel()
    keep = np.isfinite(v)
    return t[keep], v[keep]


def style(ax, ylim, major, minor, title, ylabel, ylab_size, xlabel=None):
    ax.set_xlim(1997, 2010)
    ax.set_ylim(*ylim)
    ax.set_xticks(year_ticks)
    ax.set_xticklabels(year_labels)
    ax.yaxis.set_major_locator(MultipleLocator(major))
    ax.yaxis.set_minor_locator(MultipleLocator(minor))
    ax.tick_params(which='both', direction='in', top=True, right=True, width=1, labelsize=14)
    ax.tick_params(which='major', length=6)
    ax.tick_params(which='minor', length=3)
    ax.tick_params(axis='x', which='major', pad=8)
    ax.tick_params(axis='y', which='major', pad=4)
    for s in ax.spines.values():
        s.set_linewidth(1.2)
    ax.set_title(title, fontsize=18, pad=6)
    ax.set_ylabel(ylabel, fontsize=ylab_size)
    if xlabel:
        ax.set_xlabel(xlabel, fontsize=14.5, labelpad=1)


fig = plt.figure(figsize=(9.9, 5.6), dpi=100)
ax1 = fig.add_axes([0.0616, 0.5923, 0.4141, 0.3273])
ax2 = fig.add_axes([0.5717, 0.5923, 0.4141, 0.3273])
ax3 = fig.add_axes([0.0616, 0.0863, 0.4141, 0.3257])
ax4 = fig.add_axes([0.5717, 0.0875, 0.4141, 0.3245])

mk = dict(linestyle='none', marker='+', markersize=6, markeredgewidth=1.5)

# partial columns: Lauder
ax1.plot(*series(lau_years, lau_black), color='black', **mk)
ax1.plot(*series(lau_years, lau_black2), color='black', **mk)
ax1.plot(lau_black_xt, lau_black_xv, color='black', **mk)
ax1.plot(*series(lau_years, lau_green), color=GREEN, **mk)
ax1.plot(lau_green_xt, lau_green_xv, color=GREEN, **mk)
ax1.plot(*series(lau_years, lau_red), color=RED, **mk)
ax1.plot(lau_red_xt, lau_red_xv, color=RED, **mk)

# partial columns: Arrival Heights
ax3.plot(*series(ah_years, ah_black), color='black', **mk)
ax3.plot(*series(ah_years, ah_black2), color='black', **mk)
ax3.plot(ah_black_xt, ah_black_xv, color='black', **mk)
ax3.plot(*series(ah_years, ah_green), color=GREEN, **mk)
ax3.plot(ah_green_xt, ah_green_xv, color=GREEN, **mk)
ax3.plot(*series(ah_years, ah_red), color=RED, **mk)

dot = dict(linestyle='none', marker='s', markersize=2, markeredgewidth=0, color='black')

# residual: Lauder
ax2.plot(*series(lau_years, lau_res_a), **dot)
ax2.plot(*series(lau_years, lau_res_b), **dot)
ax2.plot(*series(lau_years, lau_res_c), **dot)
ax2.plot(lau_res_xt, lau_res_xv, **dot)
ax2.plot(lau_trend_t, lau_trend_v, color='black', lw=3)
ax2.plot(*series(lau_years, lau_fit), color=RED, lw=1.3)

# residual: Arrival Heights
ax4.plot(*series(ah_years, ah_res_a), **dot)
ax4.plot(*series(ah_years, ah_res_b), **dot)
ax4.plot(ah_trend_t, ah_trend_lo_v, color='#909090', lw=2)
ax4.plot(ah_trend_t, ah_trend_v, color='black', lw=2.5)
ax4.plot(ah_fit_t, ah_fit_v, color=RED, lw=1.3)

col_label = 'HCN [10$^{15}$ molecules cm$^{-2}$]'
res_label = 'HCN diff. [10$^{15}$ molecs cm$^{-2}$]'
style(ax1, (-0.3, 8.1), 2, 0.5, 'A: HCN partial columns: Lauder', col_label, 13.5)
style(ax2, (-3.17, 3.08), 1, 0.1, 'A: HCN residual: Lauder', res_label, 14)
style(ax3, (-0.23, 8.16), 2, 0.5, 'A: HCN partial columns: Arrival Heights', col_label, 13.5, 'Year')
style(ax4, (-3.03, 3.14), 1, 0.1, 'A: HCN residual: Arrival Heights', res_label, 14, 'Year')

for ax in (ax1, ax3):
    ax.yaxis.set_label_coords(-0.072, 0.5)
for ax in (ax2, ax4):
    ax.yaxis.set_label_coords(-0.088, 0.5)

fig.savefig('out.png', dpi=100)
